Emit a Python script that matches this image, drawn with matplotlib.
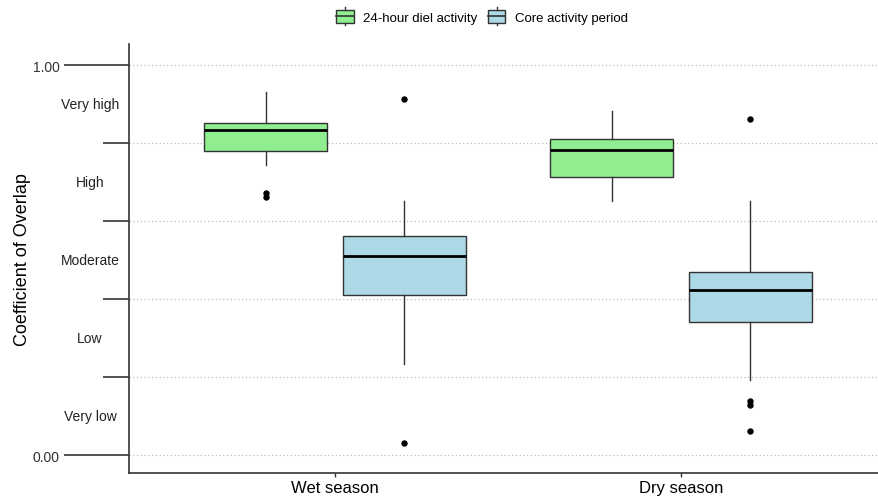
import matplotlib
matplotlib.use("Agg")
import matplotlib.pyplot as plt
from matplotlib.legend_handler import HandlerBase
from matplotlib.patches import Rectangle, Patch
from matplotlib.lines import Line2D

plt.rcParams["font.family"] = ["Liberation Sans", "DejaVu Sans"]

seasons = ["Wet season", "Dry season"]
series = ["24-hour diel activity", "Core activity period"]
colors = ["#90EE90", "#ADD8E6"]

# box statistics per series, ordered wet season then dry season
whislo = [[0.744, 0.651], [0.233, 0.192]]
q1 = [[0.779, 0.713], [0.410, 0.341]]
med = [[0.833, 0.782], [0.510, 0.423]]
q3 = [[0.851, 0.810], [0.562, 0.469]]
whishi = [[0.931, 0.882], [0.651, 0.651]]
fliers = [
    [[0.672, 0.662], []],
    [[0.913, 0.031], [0.862, 0.138, 0.128, 0.062]],
]

overlap_ticks = [0.0, 1.0]
overlap_ticklabels = ["0.00", "1.00"]
class_bounds = [0.2, 0.4, 0.6, 0.8]
class_mids = [0.1, 0.3, 0.5, 0.7, 0.9]
class_names = ["Very low", "Low", "Moderate", "High", "Very high"]

edge = "#333333"


class BoxKeyHandler(HandlerBase):
    def create_artists(self, legend, orig_handle, xdescent, ydescent,
                       width, height, fontsize, trans):
        w = width
        x0 = -xdescent
        y0 = -ydescent
        lo, hi = y0 - height * 0.2, y0 + height * 1.2
        box = Rectangle((x0, lo), w, hi - lo,
                        facecolor=orig_handle.get_facecolor(),
                        edgecolor=edge, lw=1, transform=trans)
        mid = Line2D([x0, x0 + w], [y0 + height / 2] * 2, color=edge,
                     lw=1.2, transform=trans)
        top = Line2D([x0 + w / 2] * 2, [hi, hi + height * 0.3],
                     color=edge, lw=1, transform=trans)
        bot = Line2D([x0 + w / 2] * 2, [lo - height * 0.3, lo],
                     color=edge, lw=1, transform=trans)
        return [box, mid, top, bot]


fig = plt.figure(figsize=(8.79, 5.02), dpi=100)
ax = fig.add_axes([0.1468, 0.0558, 0.8532, 0.8542])

offsets = [-0.2, 0.2]
for s in range(len(series)):
    stats = []
    for i in range(len(seasons)):
        stats.append(dict(whislo=whislo[s][i], q1=q1[s][i], med=med[s][i],
                          q3=q3[s][i], whishi=whishi[s][i],
                          fliers=fliers[s][i]))
    positions = [i + 1 + offsets[s] for i in range(len(seasons))]
    ax.bxp(stats, positions=positions, widths=0.355, patch_artist=True,
           showcaps=False, manage_ticks=False,
           boxprops=dict(facecolor=colors[s], edgecolor=edge, lw=1),
           whiskerprops=dict(color=edge, lw=1),
           medianprops=dict(color="black", lw=2),
           flierprops=dict(marker="o", markersize=3.6, markerfacecolor="black",
                           markeredgecolor="black"),
           zorder=3)

ax.set_xlim(0.405, 2.572)
ax.set_ylim(-0.046, 1.054)

ax.set_xticks([1, 2])
ax.set_xticklabels(seasons, fontsize=12)
ax.tick_params(axis="x", length=3, width=1, color=edge, pad=2)

ax.set_yticks(overlap_ticks)
ax.set_yticklabels(overlap_ticklabels, fontsize=10, color="#333333")
ax.set_yticks(class_bounds, minor=True)
ax.tick_params(axis="y", which="major", length=47, width=1.2, color=edge, pad=3)
ax.tick_params(axis="y", which="minor", length=19, width=1.2, color=edge)

for y, name in zip(class_mids, class_names):
    ax.text(-0.052, y, name, transform=ax.get_yaxis_transform(),
            ha="center", va="center", fontsize=10, color="#222222")

ax.grid(axis="y", which="both", linestyle=(0, (1, 2)), color="#BBBBBB",
        lw=0.9, zorder=0)
ax.set_axisbelow(True)

for side in ["top", "right"]:
    ax.spines[side].set_visible(False)
for side in ["left", "bottom"]:
    ax.spines[side].set_color(edge)
    ax.spines[side].set_linewidth(1.2)

ax.set_ylabel("Coefficient of Overlap", fontsize=13)
ax.yaxis.set_label_coords(-0.131, 0.5)

handles = [Patch(facecolor=c) for c in colors]
fig.legend(handles, series, loc="center", bbox_to_anchor=(0.548, 0.963),
           ncol=2, frameon=False, fontsize=9.5, handlelength=1.35,
           handletextpad=0.7, columnspacing=0.8,
           handler_map={Patch: BoxKeyHandler()})

fig.savefig("out.png", dpi=100)
